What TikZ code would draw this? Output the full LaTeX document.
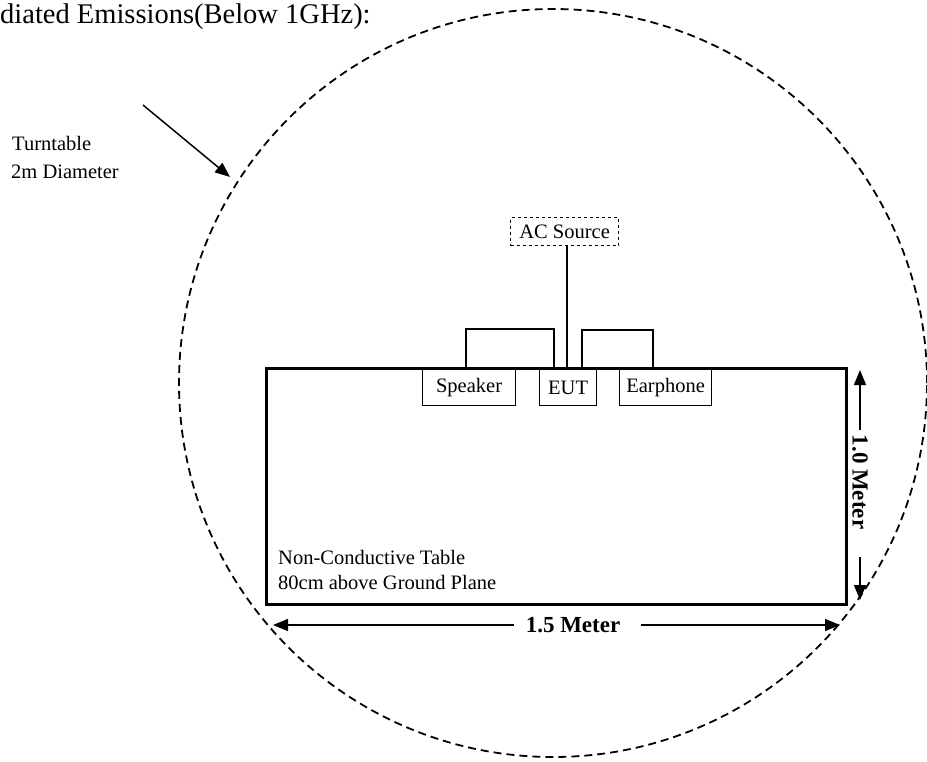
\documentclass[tikz,border=0pt]{standalone}
\usepackage{fontspec}
\setmainfont{Liberation Serif}
\usetikzlibrary{arrows.meta}
\begin{document}
\begin{tikzpicture}[x=1pt,y=-1pt,
  lbl/.style={font=\fontsize{20.5}{24}\selectfont, inner sep=0pt},
  devbox/.style={draw, line width=1.2pt, minimum height=36pt, inner sep=0pt, font=\fontsize{20.5}{24}\selectfont},
  dimtxt/.style={font=\fontsize{23}{26}\selectfont\bfseries, inner sep=0pt},
  tip/.style={-{Triangle[length=15pt,width=12pt]}, line width=1.5pt},
  cable/.style={line width=1.5pt}]
\useasboundingbox (0,0) rectangle (927,761);
\clip (0,0) rectangle (927,761);
% title
\node[anchor=base west, inner sep=0pt, font=\fontsize{28.5}{32}\selectfont] (title) at (0,23) {diated Emissions(Below 1GHz):};
% turntable circle
\draw[line width=1.8pt, dash pattern=on 8pt off 5pt] (553,383) circle[radius=374pt];
\coordinate (ttpt) at (230,177);
\node[lbl, anchor=base west] (tt1) at (12,150) {Turntable};
\node[lbl, anchor=base west] (tt2) at (11,178) {2m Diameter};
\coordinate (arrstart) at (143,105);
\draw[tip] (arrstart) -- (ttpt);
% table
\node[draw, line width=2.5pt, anchor=north west, minimum width=580pt, minimum height=236pt, inner sep=0pt] (table) at (265,367) {};
\node[lbl, anchor=base west] (nc1) at (278,564) {Non-Conductive Table};
\node[lbl, anchor=base west] (nc2) at (278,589) {80cm above Ground Plane};
% devices
\node[devbox, anchor=north west, minimum width=93pt] (spk) at (422,369) {Speaker};
\node[devbox, anchor=north west, minimum width=57pt] (eut) at (539,369) {EUT};
\node[devbox, anchor=north west, minimum width=92pt] (ear) at (619,369) {Earphone};
% AC source
\node[draw, dashed, line width=1.2pt, anchor=north west, minimum width=108pt, minimum height=28pt, inner sep=0pt, font=\fontsize{20.5}{24}\selectfont] (ac) at (510,217) {AC Source};
\coordinate (acbot) at (567,367);
\draw[cable] (ac.south -| acbot) -- (acbot);
% cable loops
\draw[cable] (466,367) -- (466,329) -- (554,329) -- (554,367);
\draw[cable] (582,367) -- (582,330) -- (653,330) -- (653,367);
% vertical dimension
\node[dimtxt, rotate=-90] (vdim) at (860,482) {1.0 Meter};
\coordinate (vtop) at (860,370);
\coordinate (vbot) at (860,600);
\draw[tip] (860,430) -- (vtop);
\draw[tip] (860,557) -- (vbot);
% horizontal dimension
\node[dimtxt] (hdim) at (573,625) {1.5 Meter};
\coordinate (hl) at (273,625);
\coordinate (hr) at (840,625);
\draw[tip] (514,625) -- (hl);
\draw[tip] (641,625) -- (hr);
\end{tikzpicture}
\end{document}
